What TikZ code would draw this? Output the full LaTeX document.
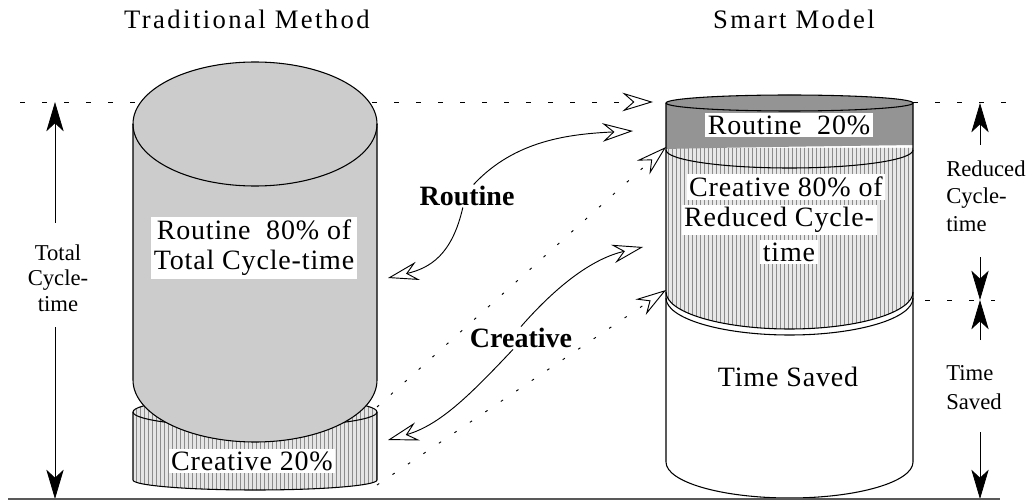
\documentclass[tikz,border=0pt]{standalone}
\usepackage{fontspec}
\setmainfont{Liberation Serif}
\usetikzlibrary{arrows.meta,patterns}
\definecolor{bigfill}{gray}{0.80}
\definecolor{smallfill}{gray}{0.90}
\definecolor{bandfill}{gray}{0.58}
\definecolor{dotfill}{gray}{0.91}
\definecolor{patcol}{gray}{0.55}
\definecolor{basecol}{gray}{0.35}
\begin{document}
\begin{tikzpicture}[x=0.75pt, y=-0.75pt,
  outl/.style={line width=0.8pt, line join=round},
  linepat/.style={preaction={fill=#1}, pattern=vertical lines, pattern color=patcol},
  titletext/.style={font=\fontsize{20}{24}\selectfont\addfontfeatures{LetterSpace=9}},
  cyltext/.style={font=\fontsize{21}{24}\selectfont\addfontfeatures{LetterSpace=3}, inner sep=2pt},
  boxtext/.style={cyltext, fill=white},
  boldlabel/.style={font=\fontsize{21}{24}\selectfont\bfseries, inner sep=1pt},
  sidetext/.style={font=\fontsize{17}{#1}\selectfont, align=left, inner sep=0pt},
  openarrow/.style={-{Stealth[open, length=23pt, width=14pt, inset=8pt]}, line width=0.7pt},
  solidhead/.style={-{Stealth[length=22pt, width=13pt, inset=6pt]}, line width=0.6pt},
  dotline/.style={dash pattern=on 2pt off 12pt, line width=0.9pt},
  dashline/.style={dash pattern=on 4pt off 12.5pt, line width=0.6pt}]
\useasboundingbox (0,0) rectangle (1034,502);

% titles
\node[titletext] (ttrad) at (247,19) {Traditional Method};
\node[titletext] (tsmart) at (794,19) {Smart Model};

% named points
\coordinate (topL) at (20,102);
\coordinate (topTip) at (653,102);
\coordinate (c20top) at (377,407);
\coordinate (c20bot) at (377,485);
\coordinate (c80top) at (666,147);
\coordinate (tsTop) at (666,290);
\coordinate (rtTip) at (633,131);
\coordinate (rtLeft) at (388,278);
\coordinate (crTip) at (643,247);
\coordinate (crLeft) at (388,440);

% top dashed guide
\draw[dashline, openarrow] (topL) -- (topTip);

% ---- Traditional: small cylinder (Creative 20%)
\path[draw, outl, linepat=smallfill] (133,412) -- (133,480)
  arc[start angle=180, end angle=0, x radius=122, y radius=10]
  -- (377,412) arc[start angle=0, end angle=-180, x radius=122, y radius=15] -- cycle;
\draw[outl] (133,412) arc[start angle=180, end angle=0, x radius=122, y radius=15];

% ---- Traditional: big cylinder (Routine 80%)
\path[draw, outl, fill=bigfill] (133,124) -- (133,380)
  arc[start angle=180, end angle=0, x radius=122, y radius=62]
  -- (377,124) arc[start angle=0, end angle=-180, x radius=122, y radius=62] -- cycle;
\draw[outl] (133,124) arc[start angle=180, end angle=0, x radius=122, y radius=62];

% ---- Smart model cylinder
\fill[white] (666,103) -- (666,462)
  arc[start angle=180, end angle=0, x radius=123.5, y radius=36] -- (913,103) -- cycle;
\path[linepat=dotfill] (666,148) -- (666,292)
  arc[start angle=180, end angle=0, x radius=123.5, y radius=37] -- (913,148) -- cycle;
\fill[bandfill] (666,149) .. controls (750,147) and (850,146) .. (913,145)
  -- (913,103) arc[start angle=0, end angle=-180, x radius=123.5, y radius=8] -- cycle;
\draw[outl] (666,103) -- (666,462)
  arc[start angle=180, end angle=0, x radius=123.5, y radius=36] -- (913,103);
\draw[outl] (789.5,103) ellipse[x radius=123.5, y radius=8];
\draw[outl] (666,150) arc[start angle=180, end angle=0, x radius=123.5, y radius=18];
\draw[outl] (666,292) arc[start angle=180, end angle=0, x radius=123.5, y radius=37];
\draw[outl] (666,298) arc[start angle=180, end angle=0, x radius=123.5, y radius=37];

% cylinder labels
\node[boxtext, align=center, font=\fontsize{21}{22.5}\selectfont\addfontfeatures{LetterSpace=3}] (lroutine) at (254,248) {Routine \ 80\% of\\Total Cycle-time};
\node[boxtext] (lcreative) at (252,461) {Creative 20\%};
\node[boxtext] (rroutine) at (789,125) {Routine \ 20\%};
\node[boxtext] (rcre1) at (786,187) {Creative 80\% of};
\node[boxtext] (rcre2) at (779,220) {Reduced Cycle-};
\node[boxtext] (rcre3) at (789,252) {time};
\node[cyltext] (tsaved) at (788,377) {Time Saved};

% middle labels
\node[boldlabel] (rt) at (467,196) {Routine};
\node[boldlabel] (cr) at (521,338) {Creative};

% curved open arrows
\draw[openarrow] (rt.60) .. controls (515,140) and (570,134) .. (rtTip);
\draw[openarrow] (rt.250) .. controls (452,255) and (430,268) .. (rtLeft);
\draw[openarrow] (cr.north) .. controls (560,282) and (595,258) .. (crTip);
\draw[openarrow] (cr.235) .. controls (470,395) and (440,425) .. (crLeft);

% dotted open arrows
\draw[dotline, openarrow] (c20top) -- (c80top);
\draw[dotline, openarrow] (c20bot) -- (tsTop);

% side labels
\node[sidetext=19pt, align=center] (tct) at (58,278) {Total\\Cycle-\\time};
\node[sidetext=20.6pt, anchor=west] (rct) at (946,196) {Reduced\\Cycle-\\time};
\node[sidetext=21.7pt, anchor=west] (tst) at (946,388) {Time\\Saved};

% vertical dimension arrows
\coordinate (tcA) at (55,223);
\coordinate (tcB) at (55,102);
\coordinate (tcC) at (55,327);
\coordinate (tcD) at (55,499);
\draw[solidhead] (tcA) -- (tcB);
\draw[solidhead] (tcC) -- (tcD);

\coordinate (rA) at (980,145);
\coordinate (rB) at (980,103);
\coordinate (rC) at (980,257);
\coordinate (rD) at (980,300);
\coordinate (rE) at (980,340);
\coordinate (rF) at (980,432);
\coordinate (rG) at (980,499);
\draw[solidhead] (rA) -- (rB);
\draw[solidhead] (rC) -- (rD);
\draw[solidhead] (rE) -- (rD);
\draw[solidhead] (rF) -- (rG);

% right dashed guides
\coordinate (rd1a) at (913,102);
\coordinate (rd1b) at (1008,102);
\coordinate (rd2a) at (925,300);
\coordinate (rd2b) at (995,300);
\draw[dashline] (rd1a) -- (rd1b);
\draw[dashline] (rd2a) -- (rd2b);

% base line
\draw[basecol, line width=1.3pt] (8,499) -- (1000,499);
\end{tikzpicture}
\end{document}
